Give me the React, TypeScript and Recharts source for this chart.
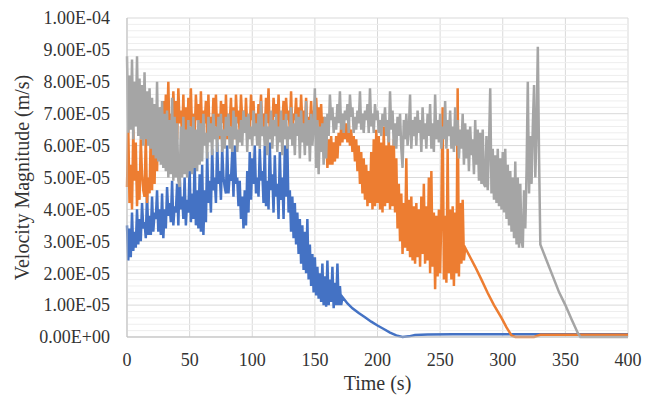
import { LineChart, Line, XAxis, YAxis, CartesianGrid, ReferenceLine } from "recharts";

// values are in units of 1e-5 m/s; noisy parts sampled every 1 s from t = 0
const STEP = 1;

const blueNoise = [
  3.5, 2.4, 3.4, 2.5, 3.9, 2.7, 3.3, 2.8, 4.0, 2.9,
  3.7, 3.0, 4.2, 3.4, 3.6, 3.1, 4.5, 3.2, 3.8, 3.2,
  4.4, 3.3, 3.9, 3.7, 4.6, 3.3, 4.0, 3.2, 4.5, 3.1,
  4.0, 3.4, 4.7, 3.8, 4.2, 3.6, 4.9, 3.5, 4.1, 3.9,
  4.8, 3.5, 5.2, 4.0, 4.4, 3.7, 5.0, 3.5, 4.3, 3.9,
  5.3, 3.6, 4.5, 3.7, 5.6, 3.5, 4.6, 3.4, 5.1, 3.3,
  5.4, 3.2, 4.6, 3.6, 5.8, 4.2, 4.9, 3.9, 5.9, 4.6,
  5.0, 4.2, 6.1, 4.8, 5.2, 4.3, 5.9, 5.0, 4.7, 4.5,
  6.0, 4.5, 5.1, 4.9, 5.8, 4.4, 6.0, 4.8, 5.0, 4.1,
  4.9, 3.7, 4.4, 3.4, 4.6, 3.5, 5.2, 3.9, 5.8, 4.3,
  5.6, 4.8, 6.0, 4.5, 5.0, 4.4, 5.9, 4.9, 5.2, 4.2,
  6.0, 4.1, 4.9, 4.0, 6.1, 4.6, 5.1, 3.9, 5.7, 4.4,
  4.8, 3.7, 5.8, 4.3, 5.0, 3.7, 6.0, 4.4, 6.1, 3.9,
  4.6, 3.3, 4.4, 3.1, 4.2, 2.9, 3.9, 2.6, 3.7, 2.3,
  3.5, 2.1, 3.3, 2.0, 3.7, 1.8, 2.9, 1.6, 2.6, 1.4,
  2.5, 1.3, 2.2, 1.2, 2.0, 1.1, 2.3, 1.0, 1.9, 0.95,
  2.4, 1.0, 1.8, 1.1, 2.2, 0.9, 1.7, 1.0, 2.3, 1.0,
  1.6, 1.0, 1.25,
];
const blueTailT = [174, 176, 180, 185, 190, 195, 200, 205, 210, 215, 220, 225, 230, 240, 260, 300, 400];
const blueTailV = [1.15, 1.05, 0.9, 0.75, 0.62, 0.48, 0.36, 0.25, 0.14, 0.05, 0.0, 0.02, 0.06, 0.08, 0.09, 0.09, 0.09];

const orangeNoise = [
  4.7, 6.6, 4.2, 5.4, 4.0, 6.5, 4.9, 6.1, 4.1, 5.2,
  4.3, 6.2, 5.1, 4.6, 4.4, 6.3, 4.2, 5.0, 4.5, 6.4,
  4.6, 6.5, 4.8, 6.8, 5.2, 6.9, 5.6, 7.2, 5.8, 7.4,
  6.1, 7.6, 6.5, 8.0, 6.1, 7.0, 6.3, 7.7, 6.6, 7.4,
  6.2, 7.8, 6.7, 7.1, 6.3, 7.6, 5.9, 7.2, 6.2, 7.5,
  6.6, 7.8, 6.3, 7.0, 6.2, 7.6, 6.8, 7.3, 6.1, 7.7,
  6.3, 7.1, 6.7, 7.4, 6.3, 7.6, 6.2, 6.9, 6.4, 7.5,
  6.6, 7.6, 6.3, 7.0, 6.2, 7.4, 6.7, 7.3, 6.2, 7.6,
  6.2, 7.0, 6.6, 7.5, 6.2, 7.2, 6.2, 7.6, 6.7, 7.1,
  6.4, 7.6, 6.8, 7.1, 6.4, 7.5, 6.5, 6.9, 6.4, 7.6,
  6.8, 7.4, 6.4, 7.0, 6.5, 7.3, 6.9, 7.6, 6.5, 7.0,
  6.4, 7.5, 6.7, 7.8, 6.4, 7.0, 6.5, 7.5, 6.9, 7.3,
  6.5, 7.6, 6.4, 6.9, 6.7, 7.4, 6.3, 7.5, 6.8, 7.1,
  6.5, 7.7, 6.4, 7.0, 6.8, 7.5, 6.3, 7.2, 6.4, 7.6,
  6.7, 7.1, 6.4, 7.5, 6.3, 6.9, 6.6, 7.4, 6.4, 7.1,
  6.5, 7.5, 6.8, 7.2, 6.4, 7.3, 6.2, 6.9, 5.8, 6.4,
  5.3, 6.2, 5.4, 6.3, 5.4, 6.1, 5.5, 6.3, 5.6, 6.4,
  6.0, 6.6, 6.1, 6.8, 6.2, 6.7, 6.1, 6.8, 6.0, 6.5,
  5.8, 6.3, 5.5, 6.2, 5.2, 6.0, 4.8, 5.8, 4.5, 5.6,
  4.3, 5.4, 4.1, 5.2, 4.2, 5.8, 4.0, 6.2, 4.1, 6.5,
  4.2, 6.3, 4.0, 6.1, 3.9, 6.6, 4.1, 6.0, 4.2, 6.4,
  4.0, 6.0, 4.1, 6.2, 3.9, 5.6, 3.4, 4.8, 3.0, 4.5,
  2.6, 4.2, 2.8, 5.6, 2.7, 4.3, 2.5, 4.4, 2.4, 4.1,
  2.3, 4.2, 2.5, 4.0, 2.2, 4.4, 2.6, 4.8, 2.3, 4.1,
  2.4, 5.0, 2.0, 5.2, 2.2, 3.9, 1.5, 3.8, 1.9, 4.0,
  2.0, 3.9, 7.2, 1.8, 3.8, 1.7, 5.9, 2.0, 4.0, 1.8,
  4.1, 1.6, 3.9, 2.0, 7.8, 1.9, 4.2, 2.3, 4.3, 2.4,
  2.8,
];
const orangeTailT = [272, 274, 278, 283, 288, 293, 299, 303, 307, 310, 325, 330, 400];
const orangeTailV = [2.65, 2.5, 2.2, 1.8, 1.38, 1.0, 0.6, 0.3, 0.05, 0.0, 0.0, 0.07, 0.07];

const grayNoise = [
  8.8, 6.4, 8.2, 6.5, 8.7, 6.2, 8.0, 6.6, 8.8, 6.3,
  8.1, 6.2, 7.9, 6.0, 8.3, 6.2, 7.7, 6.0, 7.8, 5.9,
  7.5, 5.7, 7.3, 5.6, 8.0, 5.5, 7.2, 5.4, 7.4, 5.3,
  7.0, 5.2, 7.1, 5.0, 6.8, 5.1, 7.5, 4.9, 6.9, 5.0,
  6.7, 4.9, 4.7, 6.6, 5.0, 6.9, 5.1, 6.5, 5.0, 6.8,
  5.2, 6.6, 5.1, 6.9, 5.3, 6.5, 5.2, 6.8, 5.4, 6.7,
  5.5, 7.0, 6.0, 6.4, 5.6, 6.9, 6.1, 6.7, 5.7, 7.0,
  6.2, 6.6, 5.8, 6.9, 6.3, 7.0, 5.8, 6.5, 5.9, 6.9,
  6.3, 7.0, 5.9, 6.6, 5.8, 7.1, 6.2, 6.9, 5.8, 6.5,
  6.1, 6.8, 6.0, 7.1, 6.4, 6.9, 5.8, 7.0, 6.2, 6.6,
  6.0, 7.1, 6.3, 6.7, 6.0, 7.0, 5.9, 7.4, 6.3, 6.6,
  6.0, 7.0, 5.7, 6.6, 6.2, 7.1, 5.9, 6.8, 6.3, 7.0,
  5.8, 6.6, 6.1, 7.1, 5.7, 6.8, 6.2, 7.0, 5.9, 6.6,
  6.2, 7.2, 6.0, 6.7, 5.7, 7.0, 6.3, 6.9, 5.6, 7.1,
  6.1, 6.7, 5.7, 7.4, 6.0, 6.8, 5.5, 7.0, 6.0, 6.6,
  7.8, 5.3, 6.8, 5.1, 6.6, 5.8, 6.7, 5.4, 6.9, 5.6,
  7.0, 6.3, 7.6, 6.8, 7.2, 6.4, 6.9, 6.5, 7.3, 6.7,
  7.7, 6.5, 7.0, 6.4, 7.1, 6.8, 7.3, 6.4, 7.6, 6.9,
  7.2, 6.4, 6.9, 6.5, 7.1, 6.7, 7.7, 6.5, 7.0, 6.4,
  7.1, 6.8, 7.3, 6.4, 7.8, 6.6, 7.0, 6.4, 7.3, 6.8,
  7.1, 6.4, 6.8, 6.3, 7.0, 6.6, 7.2, 6.3, 6.8, 6.1,
  7.7, 6.5, 7.1, 6.0, 6.7, 5.9, 6.9, 6.3, 7.0, 5.9,
  5.3, 6.8, 6.2, 7.0, 6.0, 6.5, 7.6, 5.9, 6.8, 6.3,
  6.9, 6.0, 7.1, 6.4, 6.8, 5.8, 7.2, 6.2, 6.7, 5.9,
  7.0, 6.3, 7.3, 5.9, 6.7, 5.8, 7.6, 6.2, 6.8, 6.1,
  7.0, 5.9, 6.6, 6.2, 7.4, 5.9, 6.8, 6.3, 7.1, 5.9,
  6.6, 5.8, 7.2, 6.0, 6.8, 5.6, 6.5, 5.9, 7.0, 5.4,
  6.7, 5.6, 6.5, 5.2, 6.6, 5.7, 6.2, 5.1, 6.8, 5.4,
  6.5, 4.9, 6.4, 4.8, 6.5, 4.8, 4.7, 6.3, 4.6, 6.0,
  7.8, 4.5, 5.9, 4.3, 5.7, 4.2, 5.9, 4.1, 5.6, 4.0,
  5.8, 3.9, 5.9, 3.7, 5.4, 3.5, 5.2, 3.3, 5.0, 3.1,
  5.5, 2.9, 5.0, 2.8, 4.8, 3.0, 2.8, 4.6, 3.4, 5.2,
  8.0, 4.5, 6.3, 4.8, 6.6, 7.9, 5.0, 6.5, 9.1, 5.6,
  2.9,
];
const grayTailT = [332, 335, 340, 345, 350, 355, 360, 362, 400];
const grayTailV = [2.7, 2.4, 1.9, 1.4, 1.0, 0.55, 0.12, 0.0, 0.0];

const xTicks = [0, 50, 100, 150, 200, 250, 300, 350, 400];
const yTicks = [0, 1, 2, 3, 4, 5, 6, 7, 8, 9, 10];

const build = (noise: number[], tailT: number[], tailV: number[]) => [
  ...noise.map((v, i) => ({ t: i * STEP, v })),
  ...tailT.map((t, i) => ({ t, v: tailV[i] })),
];

const blueData = build(blueNoise, blueTailT, blueTailV);
const orangeData = build(orangeNoise, orangeTailT, orangeTailV);
const grayData = build(grayNoise, grayTailT, grayTailV);

// minor gridlines every 2e-6
const minorTicks = yTicks.slice(0, -1).flatMap((m) => [0.2, 0.4, 0.6, 0.8].map((f) => m + f));

const FONT = "'Liberation Serif', 'Times New Roman', serif";

const fmtY = (v: number) => {
  if (v === 0) return "0.00E+00";
  const exp = v >= 10 ? -4 : -5;
  const mant = v >= 10 ? v / 10 : v;
  return `${mant.toFixed(2)}E-0${-exp}`;
};

export default function App() {
  return (
    <div style={{ position: "absolute", left: 0, top: 0, width: 655, height: 396, background: "#fff" }}>
      <LineChart width={655} height={396} data={grayData} margin={{ top: 18, right: 27, bottom: 0, left: 0 }}>
        {minorTicks.map((m) => (
          <ReferenceLine key={m} y={m} stroke="#EEEEEE" strokeWidth={1} />
        ))}
        <CartesianGrid stroke="#D9D9D9" />
        <XAxis
          dataKey="t"
          type="number"
          domain={[0, 400]}
          ticks={xTicks}
          height={59}
          tickSize={0}
          tickMargin={16}
          stroke="#BFBFBF"
          tick={{ fontSize: 18, fill: "#333", fontFamily: FONT }}
          label={{ value: "Time (s)", position: "insideBottom", offset: 6, style: { fontSize: 20, fill: "#333", fontFamily: FONT } }}
        />
        <YAxis
          type="number"
          domain={[0, 10]}
          ticks={yTicks}
          width={127}
          tickSize={0}
          tickMargin={17}
          tickFormatter={fmtY}
          stroke="#BFBFBF"
          tick={{ fontSize: 18, fill: "#333", fontFamily: FONT }}
          label={{
            value: "Velocity Magnitude (m/s)",
            angle: -90,
            position: "insideLeft",
            offset: 22,
            style: { textAnchor: "middle", fontSize: 20, fill: "#333", fontFamily: FONT },
          }}
        />
        <Line data={blueData} dataKey="v" stroke="#4472C4" strokeWidth={2.5} dot={false} activeDot={false} isAnimationActive={false} />
        <Line data={orangeData} dataKey="v" stroke="#ED7D31" strokeWidth={2.5} dot={false} activeDot={false} isAnimationActive={false} />
        <Line data={grayData} dataKey="v" stroke="#A5A5A5" strokeWidth={2.5} dot={false} activeDot={false} isAnimationActive={false} />
      </LineChart>
    </div>
  );
}
